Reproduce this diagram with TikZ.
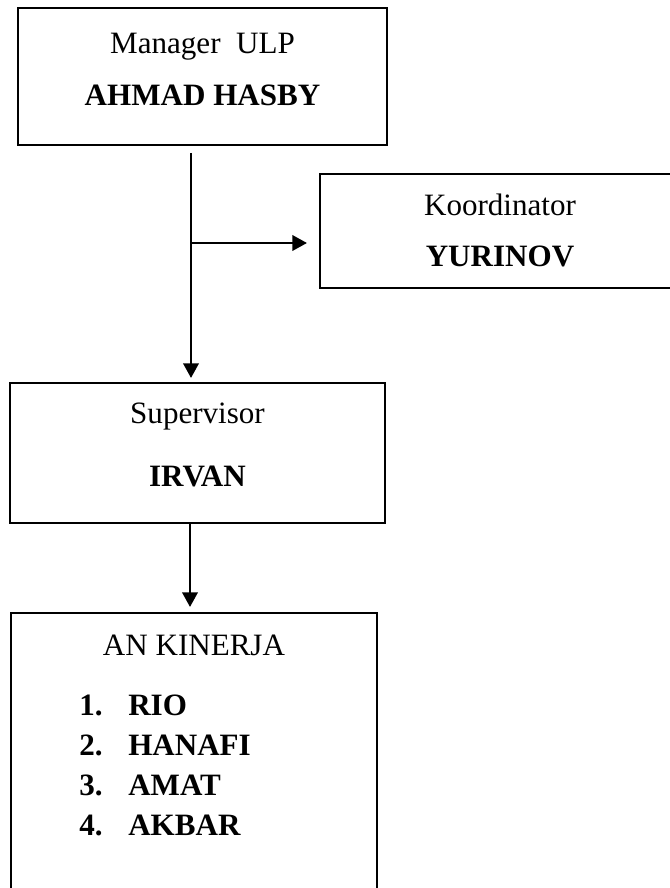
\documentclass[tikz,border=0pt]{standalone}
\usepackage{fontspec}
\setmainfont{Liberation Serif}
\usetikzlibrary{arrows.meta,fit}
\begin{document}
\begin{tikzpicture}[x=0.75pt,y=-0.75pt,
  box/.style={draw=black,line width=2pt,inner sep=0pt},
  conn/.style={draw=black,line width=2pt,-{Triangle[width=11.5pt,length=11pt]}},
  txt/.style={anchor=base,inner sep=0pt,font=\fontsize{23.3}{28}\selectfont},
  btxt/.style={txt,font=\fontsize{23.3}{28}\selectfont\bfseries},
  ltxt/.style={btxt,anchor=base west}]
\useasboundingbox (0,0) rectangle (670,888);
\clip (0,0) rectangle (670,888);
% boxes
\node[box,fit={(18,8) (387,145)}] (mgr) {};
\node[box,fit={(320,174) (680,288)}] (koor) {};
\node[box,fit={(10,383) (385,523)}] (sup) {};
\node[box,fit={(11,613) (377,900)}] (kin) {};
% texts
\node[txt]  (mgrT)  at (202.5,54)  {Manager\ \ ULP};
\node[btxt] (mgrN)  at (202.5,106) {AHMAD HASBY};
\node[txt]  (koorT) at (500,215.5) {Koordinator};
\node[btxt] (koorN) at (500,266) {YURINOV};
\node[txt]  (supT)  at (197.5,423.5) {Supervisor};
\node[btxt] (supN)  at (197.5,486) {IRVAN};
\node[txt]  (kinT)  at (194,655) {AN KINERJA};
\node[ltxt] (n1) at (79,715) {1.}; \node[ltxt] (m1) at (128,715) {RIO};
\node[ltxt] (n2) at (79,755) {2.}; \node[ltxt] (m2) at (128,755) {HANAFI};
\node[ltxt] (n3) at (79,795) {3.}; \node[ltxt] (m3) at (128,795) {AMAT};
\node[ltxt] (n4) at (79,835) {4.}; \node[ltxt] (m4) at (128,835) {AKBAR};
% connectors
\coordinate (top1) at (191,153);
\coordinate (tip1) at (191,378);
\coordinate (br)   at (191,243);
\coordinate (tip2) at (307,243);
\coordinate (top3) at (190,523);
\coordinate (tip3) at (190,607);
\draw[conn] (top1) -- (tip1);
\draw[conn] (br) -- (tip2);
\draw[conn] (top3) -- (tip3);
\end{tikzpicture}
\end{document}
